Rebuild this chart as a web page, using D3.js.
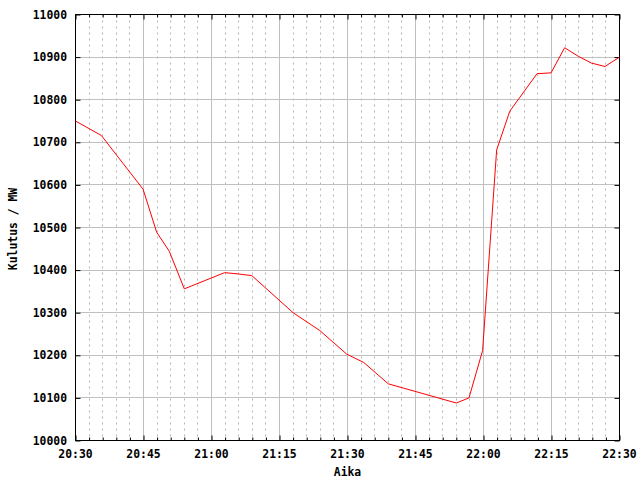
<!DOCTYPE html>
<html>
<head>
<meta charset="utf-8">
<script src="https://cdn.jsdelivr.net/npm/d3@7"></script>
<style>
  body { margin: 0; background: #fff; }
  text { font-family: "DejaVu Sans Mono", monospace; font-weight: bold; font-size: 11.4px; fill: #000; }
</style>
</head>
<body>
<div id="chart"></div>
<script>
// data
var times = ["20:30:00", "20:35:42", "20:44:54", "20:47:54", "20:50:42", "20:54:00",
  "21:02:54", "21:05:54", "21:08:54", "21:18:00", "21:23:54", "21:29:48", "21:33:36",
  "21:39:00", "21:54:00", "21:56:48", "21:59:48", "22:02:54", "22:05:48", "22:11:48",
  "22:14:54", "22:17:54", "22:20:54", "22:23:48", "22:26:48", "22:30:00"];
var values = [10750, 10716, 10590, 10489, 10444, 10356,
  10394, 10391, 10387, 10300, 10258, 10203, 10183,
  10133, 10088, 10100, 10211, 10682, 10773, 10861,
  10863, 10922, 10902, 10886, 10878, 10900];
var yTicks = [10000, 10100, 10200, 10300, 10400, 10500, 10600, 10700, 10800, 10900, 11000];
var xDomain = ["20:30:00", "22:30:00"];

var chartWidth = 640, chartHeight = 480;
var plotLeft = 75.5, plotRight = 619.5, plotTop = 14.5, plotBottom = 440.5;

var parse = d3.timeParse("%H:%M:%S");
var data = times.map(function(t, i) { return { t: parse(t), v: values[i] }; });

var svg = d3.select("#chart").append("svg")
    .attr("width", chartWidth)
    .attr("height", chartHeight);

var x = d3.scaleTime()
    .domain(xDomain.map(parse))
    .range([plotLeft, plotRight]);

var y = d3.scaleLinear()
    .domain([yTicks[0], yTicks[yTicks.length - 1]])
    .range([plotBottom, plotTop]);

var majorX = d3.timeMinute.every(15).range(x.domain()[0], d3.timeMinute.offset(x.domain()[1], 1));
var minorX = d3.timeMinute.every(3).range(x.domain()[0], d3.timeMinute.offset(x.domain()[1], 1))
    .filter(function(d) { return d.getMinutes() % 15 !== 0; });

function px(v) { return Math.round(v - 0.5) + 0.5; }

// minor vertical grid (dotted)
svg.append("g").selectAll("line")
    .data(minorX)
  .enter().append("line")
    .attr("x1", function(d) { return px(x(d)); })
    .attr("x2", function(d) { return px(x(d)); })
    .attr("y1", plotTop)
    .attr("y2", plotBottom)
    .attr("stroke", "#b4b4b4")
    .attr("stroke-dasharray", "2,4");

// major grid
svg.append("g").selectAll("line")
    .data(majorX)
  .enter().append("line")
    .attr("x1", function(d) { return px(x(d)); })
    .attr("x2", function(d) { return px(x(d)); })
    .attr("y1", plotTop)
    .attr("y2", plotBottom)
    .attr("stroke", "#c0c0c0");

svg.append("g").selectAll("line")
    .data(yTicks)
  .enter().append("line")
    .attr("x1", plotLeft)
    .attr("x2", plotRight)
    .attr("y1", function(d) { return px(y(d)); })
    .attr("y2", function(d) { return px(y(d)); })
    .attr("stroke", "#c0c0c0");

// axes, ticks pointing inward
function noDomain(g) { g.select(".domain").remove(); }

svg.append("g")
    .attr("transform", "translate(0," + plotBottom + ")")
    .call(d3.axisTop(x).tickValues(minorX).tickSize(3).tickFormat(""))
    .call(noDomain);

svg.append("g")
    .attr("transform", "translate(0," + plotTop + ")")
    .call(d3.axisBottom(x).tickValues(minorX).tickSize(3).tickFormat(""))
    .call(noDomain);

svg.append("g")
    .attr("transform", "translate(0," + plotBottom + ")")
    .call(d3.axisTop(x).tickValues(majorX).tickSize(5).tickFormat(""))
    .call(noDomain);

svg.append("g")
    .attr("transform", "translate(0," + plotTop + ")")
    .call(d3.axisBottom(x).tickValues(majorX).tickSize(5).tickFormat(""))
    .call(noDomain);

svg.append("g")
    .attr("transform", "translate(" + plotLeft + ",0)")
    .call(d3.axisRight(y).tickValues(yTicks).tickSize(5).tickFormat(""))
    .call(noDomain);

svg.append("g")
    .attr("transform", "translate(" + plotRight + ",0)")
    .call(d3.axisLeft(y).tickValues(yTicks).tickSize(5).tickFormat(""))
    .call(noDomain);

svg.append("rect")
    .attr("x", plotLeft)
    .attr("y", plotTop)
    .attr("width", plotRight - plotLeft)
    .attr("height", plotBottom - plotTop)
    .attr("fill", "none")
    .attr("stroke", "#000");

// tick labels
svg.append("g").selectAll("text")
    .data(yTicks)
  .enter().append("text")
    .attr("x", 67)
    .attr("y", function(d) { return y(d) + 4; })
    .attr("text-anchor", "end")
    .text(function(d) { return d; });

var fmt = d3.timeFormat("%H:%M");
svg.append("g").selectAll("text")
    .data(majorX)
  .enter().append("text")
    .attr("x", function(d) { return x(d); })
    .attr("y", 458)
    .attr("text-anchor", "middle")
    .text(function(d) { return fmt(d); });

// axis titles
svg.append("text")
    .attr("x", (plotLeft + plotRight) / 2)
    .attr("y", 476)
    .attr("text-anchor", "middle")
    .text("Aika");

svg.append("text")
    .attr("transform", "translate(17,229) rotate(-90)")
    .attr("text-anchor", "middle")
    .text("Kulutus / MW");

// series
var line = d3.line()
    .x(function(d) { return x(d.t); })
    .y(function(d) { return y(d.v); });

svg.append("path")
    .datum(data)
    .attr("d", line)
    .attr("fill", "none")
    .attr("stroke", "#ff0000")
    .attr("stroke-width", 1);
</script>
</body>
</html>
